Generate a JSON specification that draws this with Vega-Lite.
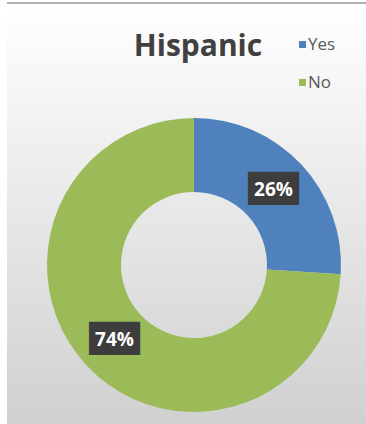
{
  "$schema": "https://vega.github.io/schema/vega-lite/v6.json",
  "width": 359,
  "height": 421,
  "autosize": {"type": "none"},
  "padding": {"left": 7, "top": 3, "right": 0, "bottom": 0},
  "background": "#ffffff",
  "view": {
    "fill": {"gradient": "linear", "x1": 0, "y1": 0, "x2": 0, "y2": 1,
      "stops": [{"offset": 0, "color": "#ffffff"}, {"offset": 1, "color": "#d0d0d0"}]},
    "stroke": null
  },
  "title": {
    "text": "Hispanic", "anchor": "middle", "frame": "group",
    "font": "Open Sans", "fontSize": 30, "fontWeight": "bold", "color": "#404040",
    "baseline": "alphabetic", "offset": 0, "dx": 11.5, "dy": 84
  },
  "data": {"values": [
    {"category": "Yes", "share": 0.26},
    {"category": "No", "share": 0.74}
  ]},
  "layer": [
    {
      "mark": {"type": "rule", "color": "#b0b0b0", "strokeWidth": 2},
      "encoding": {
        "y": {"datum": 0, "type": "quantitative", "scale": {"domain": [0, 421], "reverse": true, "nice": false, "zero": false}, "axis": null}
      }
    },
    {
      "mark": {"type": "arc", "outerRadius": 147, "innerRadius": 73},
      "encoding": {
        "x": {"datum": 187, "type": "quantitative", "scale": {"domain": [0, 359], "nice": false, "zero": false}, "axis": null},
        "y": {"datum": 262, "type": "quantitative", "scale": {"domain": [0, 421], "reverse": true, "nice": false, "zero": false}, "axis": null},
        "theta": {"field": "share", "type": "quantitative", "stack": true},
        "order": {"field": "share", "sort": "ascending"},
        "color": {
          "field": "category", "type": "nominal",
          "scale": {"domain": ["Yes", "No"], "range": ["#4F81BD", "#9BBB59"]},
          "legend": {
            "title": null, "orient": "none", "direction": "vertical",
            "legendX": 287, "legendY": 33, "padding": 0,
            "symbolType": "square", "symbolSize": 49, "symbolStrokeWidth": 0,
            "labelFont": "Open Sans", "labelFontSize": 17, "labelColor": "#595959",
            "labelOffset": -3, "rowPadding": 20
          }
        }
      }
    },
    {
      "mark": {"type": "text", "text": "███", "font": "DejaVu Sans Mono", "fontSize": 28, "color": "#3d3d3d", "radius": 109, "align": "center", "baseline": "middle"},
      "encoding": {
        "x": {"datum": 187, "type": "quantitative"},
        "y": {"datum": 262, "type": "quantitative"},
        "theta": {"field": "share", "type": "quantitative", "stack": true},
        "order": {"field": "share", "sort": "ascending"}
      }
    },
    {
      "mark": {"type": "text", "font": "Open Sans", "fontSize": 19, "fontWeight": "bold", "color": "#ffffff", "radius": 109, "align": "center", "baseline": "middle"},
      "encoding": {
        "x": {"datum": 187, "type": "quantitative"},
        "y": {"datum": 262, "type": "quantitative"},
        "theta": {"field": "share", "type": "quantitative", "stack": true},
        "order": {"field": "share", "sort": "ascending"},
        "text": {"field": "share", "type": "quantitative", "format": ".0%"}
      }
    }
  ]
}
